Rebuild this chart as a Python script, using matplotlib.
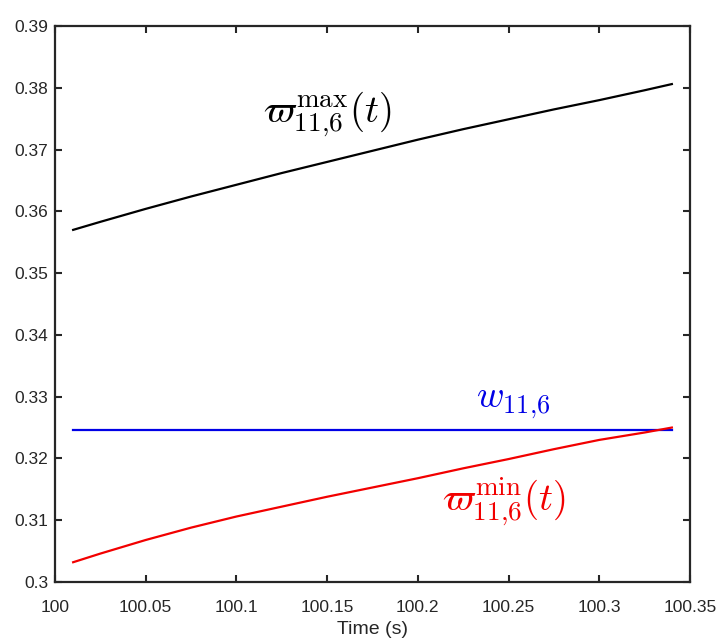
import numpy as np
import matplotlib
matplotlib.use("Agg")
import matplotlib.pyplot as plt

plt.rcParams['font.family'] = ['Liberation Sans', 'DejaVu Sans']
plt.rcParams['mathtext.fontset'] = 'cm'

# values
t = [100.010, 100.025, 100.05, 100.075, 100.10, 100.125, 100.15, 100.175,
     100.20, 100.225, 100.25, 100.275, 100.30, 100.325, 100.34]
w_max = [0.3570, 0.3583, 0.3604, 0.3624, 0.3643, 0.3662, 0.3680, 0.3698,
         0.3716, 0.3733, 0.3749, 0.3765, 0.3780, 0.3796, 0.3806]
w_min = [0.3032, 0.3046, 0.3068, 0.3088, 0.3106, 0.3122, 0.3138, 0.3153,
         0.3168, 0.3184, 0.3199, 0.3215, 0.3230, 0.3242, 0.3250]
w_const = [0.3246, 0.3246]
t_const = [100.010, 100.34]

blue = (0, 0, 0.9)
red = (0.95, 0, 0)

fig = plt.figure(figsize=(7.23, 6.44), dpi=100)
ax = fig.add_axes([55/723, 62/644, 635/723, 556/644])

ax.plot(t, w_max, color='black', lw=1.6)
ax.plot(t_const, w_const, color=blue, lw=1.6)
ax.plot(t, w_min, color=red, lw=1.6)

ax.text(100.150, 0.3758, r'$\varpi_{11{,}6}^{\max}(t)$', fontsize=28,
        ha='center', va='center', color='black')
ax.text(100.2525, 0.3290, r'$w_{11{,}6}$', fontsize=27,
        ha='center', va='center', color=blue)
ax.text(100.2477, 0.3130, r'$\varpi_{11{,}6}^{\min}(t)$', fontsize=28,
        ha='center', va='center', color=red)

ax.set_xlim(100, 100.35)
ax.set_ylim(0.30, 0.39)
ax.set_xticks(np.arange(100, 100.351, 0.05))
ax.set_xticklabels(['100', '100.05', '100.1', '100.15', '100.2', '100.25', '100.3', '100.35'])
ax.set_yticks(np.arange(0.30, 0.3901, 0.01))
ax.set_yticklabels(['0.3', '0.31', '0.32', '0.33', '0.34', '0.35', '0.36', '0.37', '0.38', '0.39'])
ax.tick_params(direction='in', top=True, right=True, length=5, width=1.5,
               labelsize=12.5, colors='#262626')
ax.tick_params(axis='x', pad=13)
ax.tick_params(axis='y', pad=5)
for s in ax.spines.values():
    s.set_linewidth(1.6)
    s.set_color('#262626')
ax.set_xlabel('Time (s)', fontsize=14, color='#262626', labelpad=4)

fig.savefig('out.png', dpi=100)
